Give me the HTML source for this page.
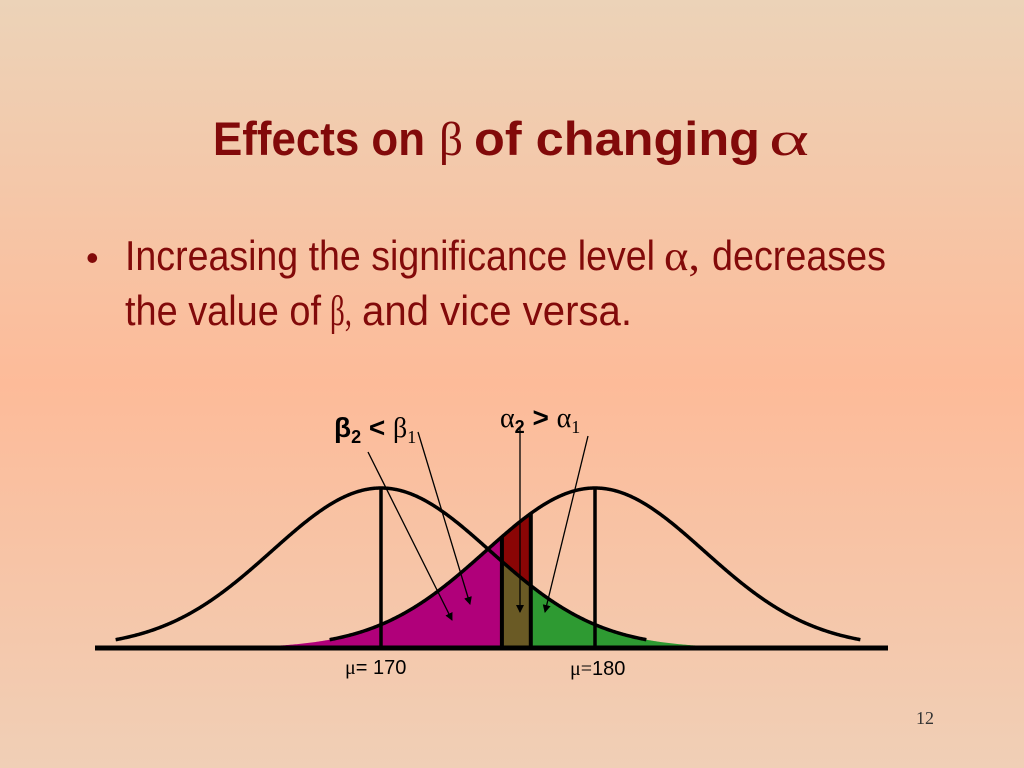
<!DOCTYPE html>
<html><head><meta charset="utf-8"><style>
html,body{margin:0;padding:0;width:1024px;height:768px;overflow:hidden}
svg{display:block}
.s{font-family:"Liberation Sans",sans-serif}
.g{font-family:"Liberation Serif",serif}
</style></head><body>
<svg id="chart" width="1024" height="768" viewBox="0 0 1024 768">
<defs>
<linearGradient id="bg" x1="0" y1="0" x2="0" y2="1">
<stop offset="0" stop-color="#ecd3b8"/>
<stop offset="0.5" stop-color="#fdbb99"/>
<stop offset="1" stop-color="#f0cfb6"/>
</linearGradient>
<marker id="ah" markerWidth="8" markerHeight="8" refX="7" refY="4" orient="auto" markerUnits="userSpaceOnUse">
<path d="M0,0 L8,4 L0,8 z" fill="#000"/>
</marker>
</defs>
<rect width="1024" height="768" fill="url(#bg)"/>
<g fill="#820a0a">
<text class="s" x="213" y="155" font-size="47" font-weight="bold" textLength="212" lengthAdjust="spacingAndGlyphs">Effects on</text>
<text class="g" x="439" y="155" font-size="48" textLength="24" lengthAdjust="spacingAndGlyphs">β</text>
<text class="s" x="474" y="155" font-size="47" font-weight="bold" textLength="286" lengthAdjust="spacingAndGlyphs">of changing</text>
<text class="g" x="769" y="155" font-size="48" textLength="40" lengthAdjust="spacingAndGlyphs">α</text>
</g>
<g fill="#820a0a">
<text class="s" x="86" y="270" font-size="36">•</text>
<text class="s" x="125" y="270" font-size="42" textLength="530" lengthAdjust="spacingAndGlyphs">Increasing the significance level</text>
<text class="g" x="664" y="270" font-size="42" textLength="36" lengthAdjust="spacingAndGlyphs">α,</text>
<text class="s" x="712" y="270" font-size="42" textLength="174" lengthAdjust="spacingAndGlyphs">decreases</text>
<text class="s" x="125" y="325" font-size="42" textLength="196" lengthAdjust="spacingAndGlyphs">the value of</text>
<text class="g" x="330" y="325" font-size="42" textLength="22" lengthAdjust="spacingAndGlyphs">β,</text>
<text class="s" x="362" y="325" font-size="42" textLength="270" lengthAdjust="spacingAndGlyphs">and vice versa.</text>
</g>
<g id="plot"></g>
<g font-size="28" fill="#000">
<text x="334" y="437"><tspan class="s" font-weight="bold">β</tspan><tspan class="s" font-weight="bold" font-size="18" dy="6">2</tspan><tspan class="s" font-weight="bold" dy="-6"> &lt; </tspan><tspan class="g">β</tspan><tspan class="g" font-size="18" dy="6">1</tspan></text>
<text x="500" y="427"><tspan class="g">α</tspan><tspan class="s" font-weight="bold" font-size="18" dy="6">2</tspan><tspan class="s" font-weight="bold" dy="-6"> &gt; </tspan><tspan class="g">α</tspan><tspan class="g" font-size="18" dy="6">1</tspan></text>
</g>
<g fill="#000" font-size="20">
<text x="345" y="674"><tspan class="g">μ</tspan><tspan class="s">= 170</tspan></text>
<text x="570" y="675"><tspan class="g">μ=</tspan><tspan class="s">180</tspan></text>
</g>
<text class="g" x="916" y="724" font-size="18" fill="#333">12</text>
</svg>
<script>
const means = [170, 180];
const sigma = 5.1;
const criticalValues = [175.65, 177.0];
const meanLabels = ["μ= 170", "μ=180"];

(function () {
const px0 = 381, pxPerUnit = 21.4, baseY = 648, peakH = 160;
const xs = v => px0 + (v - 170) * pxPerUnit;
const ys = d => baseY - d * peakH;
const pdf = (v, m) => Math.exp(-((v - m) ** 2) / (2 * sigma * sigma));
const NS = "http://www.w3.org/2000/svg";
const plot = document.getElementById("plot");
function mk(tag, attrs) { const el = document.createElementNS(NS, tag); for (const k in attrs) el.setAttribute(k, attrs[k]); plot.appendChild(el); return el; }
function curvePts(m, a, b) { const p = []; for (let v = a; v <= b + 1e-9; v += 0.05) p.push([xs(v), ys(pdf(v, m))]); return p; }
const c2 = criticalValues[0], c1 = criticalValues[1];
let p = curvePts(means[1], 165, c2);
let e = mk("path", { d: "M" + xs(165) + "," + baseY + " L" + p.map(q => q.join(",")).join(" L") + " L" + xs(c2) + "," + baseY + " Z", fill: "#b0007a" });


const topPts = curvePts(means[1], c2, c1), botPts = curvePts(means[0], c2, c1).reverse();
e = mk("path", { d: "M" + topPts.concat(botPts).map(q => q.join(",")).join(" L") + " Z", fill: "#8a0505" });


p = curvePts(means[0], c2, c1);
e = mk("path", { d: "M" + xs(c2) + "," + baseY + " L" + p.map(q => q.join(",")).join(" L") + " L" + xs(c1) + "," + baseY + " Z", fill: "#6a5a25" });


p = curvePts(means[0], c1, 186);
e = mk("path", { d: "M" + xs(c1) + "," + baseY + " L" + p.map(q => q.join(",")).join(" L") + " L" + xs(186) + "," + baseY + " Z", fill: "#2e9a32" });


means.forEach((m, i) => {
  const pts = curvePts(m, m - 12.4, m + 12.4);
  const c = mk("polyline", { points: pts.map(q => q.join(",")).join(" "), fill: "none", stroke: "#000", "stroke-width": 3.5 });
  
  
  const l = mk("line", { x1: xs(m), x2: xs(m), y1: baseY, y2: ys(1), stroke: "#000", "stroke-width": 3.5 });
  
  
});
criticalValues.forEach((c, i) => {
  const l = mk("line", { x1: xs(c), x2: xs(c), y1: baseY, y2: ys(pdf(c, means[1])), stroke: "#000", "stroke-width": 4 });
  
  
});
const ax = mk("line", { x1: 95, x2: 888, y1: baseY, y2: baseY, stroke: "#000", "stroke-width": 5 });


[[368, 452, 452, 620], [418, 432, 470, 604], [520, 428, 520, 612], [588, 436, 545, 612]].forEach((a, i) => {
  const l = mk("line", { x1: a[0], y1: a[1], x2: a[2], y2: a[3], stroke: "#000", "stroke-width": 1.3, "marker-end": "url(#ah)" });
  
  
});
})();
</script>
</body></html>
